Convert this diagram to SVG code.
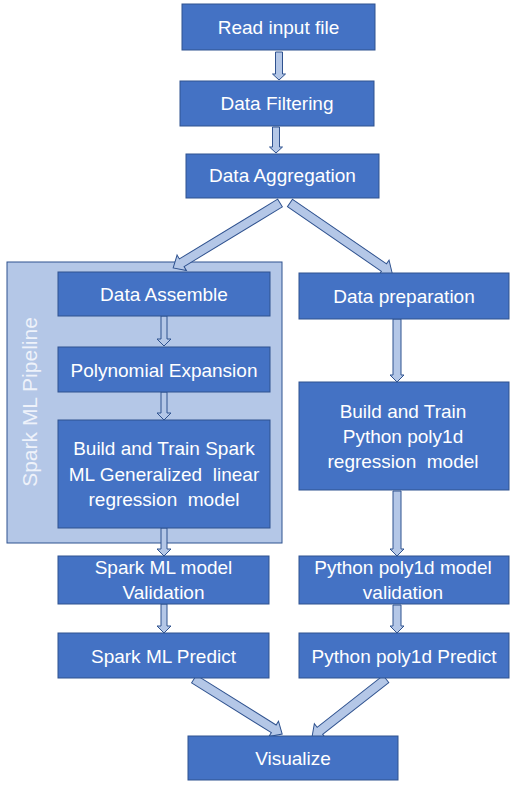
<svg xmlns="http://www.w3.org/2000/svg" width="524" height="787" viewBox="0 0 524 787">
<style>
.box{fill:#4472C4;stroke:#2F528F;stroke-width:1}
.cont{fill:#B4C7E7;stroke:#2F528F;stroke-width:1}
.arr{fill:#B4C7E7;stroke:#2F528F;stroke-width:1;stroke-linejoin:miter}
.t{font-family:"Liberation Sans",Arial,sans-serif;font-size:19px;fill:#FFFFFF;text-anchor:middle}
.lbl{font-family:"Liberation Sans",Arial,sans-serif;font-size:21px;fill:#EEF2FA;text-anchor:middle}
</style>
<rect width="524" height="787" fill="#FFFFFF"/>
<g id="pipeline">
<rect class="cont" x="7" y="262" width="275" height="281"/>
<text class="lbl" transform="translate(37,402) rotate(-90)">Spark ML Pipeline</text>
</g>
<g id="connectors">
<polygon class="arr" points="275.5,52 282.5,52 282.5,74 285.5,74 279,80 272.5,74 275.5,74"/>
<polygon class="arr" points="272.5,127 279.5,127 279.5,147 282.5,147 276,153 269.5,147 272.5,147"/>
<polygon class="arr" transform="translate(280,203) rotate(148.7)" points="0,-4.5 115,-4.5 115,-9 125,0 115,9 115,4.5 0,4.5"/>
<polygon class="arr" transform="translate(290,203) rotate(34.5)" points="0,-4.5 114,-4.5 114,-9 124,0 114,9 114,4.5 0,4.5"/>
<polygon class="arr" points="161,316 167,316 167,339 171,339 164,346 157,339 161,339"/>
<polygon class="arr" points="161,392 167,392 167,413 171,413 164,420 157,413 161,413"/>
<polygon class="arr" points="161,528 167,528 167,549 171,549 164,556 157,549 161,549"/>
<polygon class="arr" points="161,604 167,604 167,626 171,626 164,633 157,626 161,626"/>
<polygon class="arr" points="393,319 401,319 401,375 404,375 397,382 390,375 393,375"/>
<polygon class="arr" points="393,491 401,491 401,549 404,549 397,556 390,549 393,549"/>
<polygon class="arr" points="393,605 401,605 401,626 404,626 397,633 390,626 393,626"/>
<polygon class="arr" transform="translate(194,679) rotate(32)" points="0,-4.5 94,-4.5 94,-9 104,0 94,9 94,4.5 0,4.5"/>
<polygon class="arr" transform="translate(386,679) rotate(141.9)" points="0,-4.5 84,-4.5 84,-9 94,0 84,9 84,4.5 0,4.5"/>
</g>
<g id="read">
<rect class="box" x="182" y="4" width="193" height="46"/>
<text class="t" x="278.5" y="34">Read input file</text>
</g>
<g id="filter">
<rect class="box" x="180" y="81" width="194" height="45"/>
<text class="t" x="277" y="110">Data Filtering</text>
</g>
<g id="aggregate">
<rect class="box" x="186" y="154" width="193" height="44"/>
<text class="t" x="282.5" y="182">Data Aggregation</text>
</g>
<g id="assemble">
<rect class="box" x="58" y="272" width="212" height="44"/>
<text class="t" x="164" y="300.5">Data Assemble</text>
</g>
<g id="poly">
<rect class="box" x="58" y="347" width="212" height="45"/>
<text class="t" x="164" y="376.5">Polynomial Expansion</text>
</g>
<g id="sparktrain">
<rect class="box" x="58" y="420" width="212" height="108"/>
<text class="t" x="164" y="455">Build and Train Spark</text>
<text class="t" x="164" y="481" xml:space="preserve">ML Generalized  linear</text>
<text class="t" x="164" y="506" xml:space="preserve">regression  model</text>
</g>
<g id="prep">
<rect class="box" x="299" y="273" width="210" height="46"/>
<text class="t" x="404" y="302.5">Data preparation</text>
</g>
<g id="pytrain">
<rect class="box" x="299" y="382" width="210" height="108"/>
<text class="t" x="403" y="418">Build and Train</text>
<text class="t" x="403" y="443">Python poly1d</text>
<text class="t" x="403" y="468" xml:space="preserve">regression  model</text>
</g>
<g id="sparkval">
<rect class="box" x="58" y="556" width="211" height="48"/>
<text class="t" x="163.5" y="574">Spark ML model</text>
<text class="t" x="163.5" y="599">Validation</text>
</g>
<g id="pyval">
<rect class="box" x="299" y="556" width="210" height="48"/>
<text class="t" x="403" y="574">Python poly1d model</text>
<text class="t" x="403" y="599">validation</text>
</g>
<g id="sparkpred">
<rect class="box" x="58" y="633" width="211" height="45"/>
<text class="t" x="163.5" y="662.5">Spark ML Predict</text>
</g>
<g id="pypred">
<rect class="box" x="299" y="633" width="210" height="45"/>
<text class="t" x="404" y="662.5">Python poly1d Predict</text>
</g>
<g id="visualize">
<rect class="box" x="188" y="736" width="210" height="44"/>
<text class="t" x="293" y="765">Visualize</text>
</g>
</svg>
